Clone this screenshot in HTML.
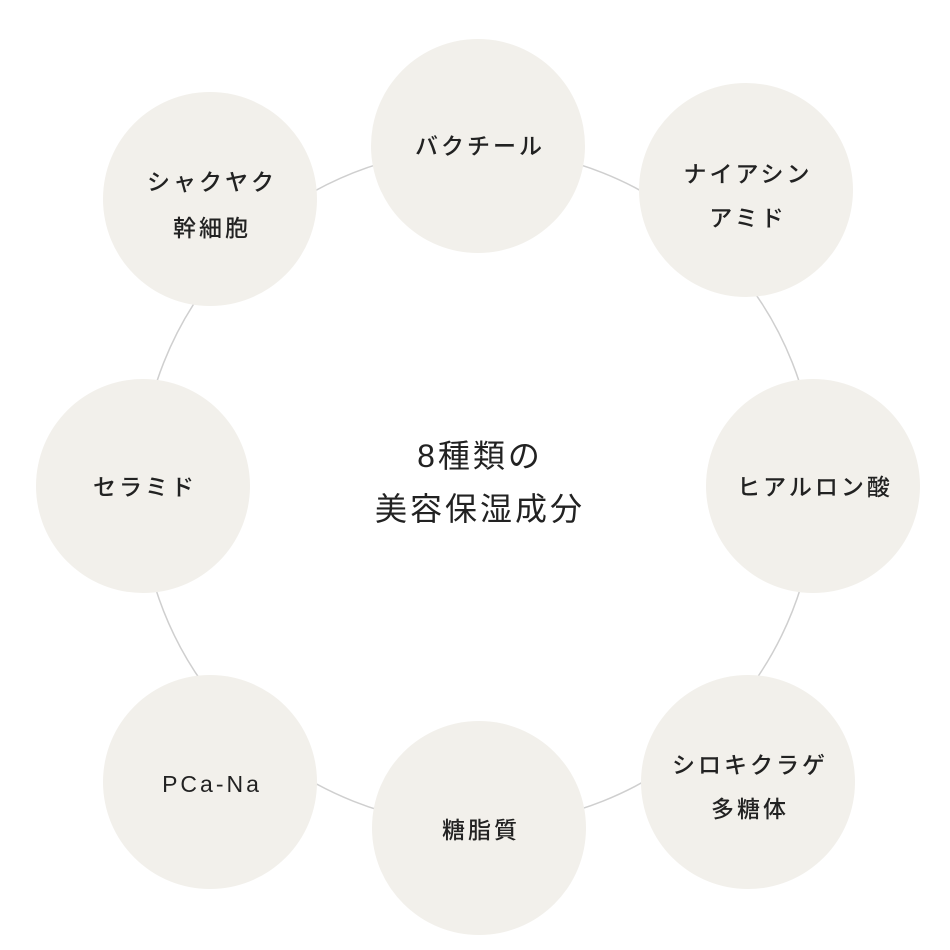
<!DOCTYPE html>
<html><head><meta charset="utf-8"><style>
html,body{margin:0;padding:0;background:#fff;width:950px;height:950px;overflow:hidden}
text{font-family:"Liberation Sans","Noto Sans CJK JP",sans-serif;fill:#222;text-anchor:middle;letter-spacing:3px}
</style></head><body>
<svg width="950" height="950" viewBox="0 0 950 950">
<circle cx="478" cy="487" r="338" fill="none" stroke="#cfcfcf" stroke-width="1.5"/>
<g fill="#f2f0eb">
<circle cx="478" cy="146" r="107"/>
<circle cx="746" cy="190" r="107"/>
<circle cx="813" cy="486" r="107"/>
<circle cx="748" cy="782" r="107"/>
<circle cx="479" cy="828" r="107"/>
<circle cx="210" cy="782" r="107"/>
<circle cx="143" cy="486" r="107"/>
<circle cx="210" cy="199" r="107"/>
</g>
<g font-size="23" font-weight="500">
<text x="480" y="154">バクチール</text>
<text x="748" y="182">ナイアシン</text>
<text x="748" y="226">アミド</text>
<text x="815" y="495">ヒアルロン酸</text>
<text x="750" y="773">シロキクラゲ</text>
<text x="750" y="817">多糖体</text>
<text x="481" y="838">糖脂質</text>
<text x="212" y="792">PCa-Na</text>
<text x="145" y="495">セラミド</text>
<text x="212" y="190">シャクヤク</text>
<text x="212" y="236">幹細胞</text>
</g>
<g font-size="32">
<text x="480" y="467">8種類の</text>
<text x="480" y="520">美容保湿成分</text>
</g>
</svg>
</body></html>
